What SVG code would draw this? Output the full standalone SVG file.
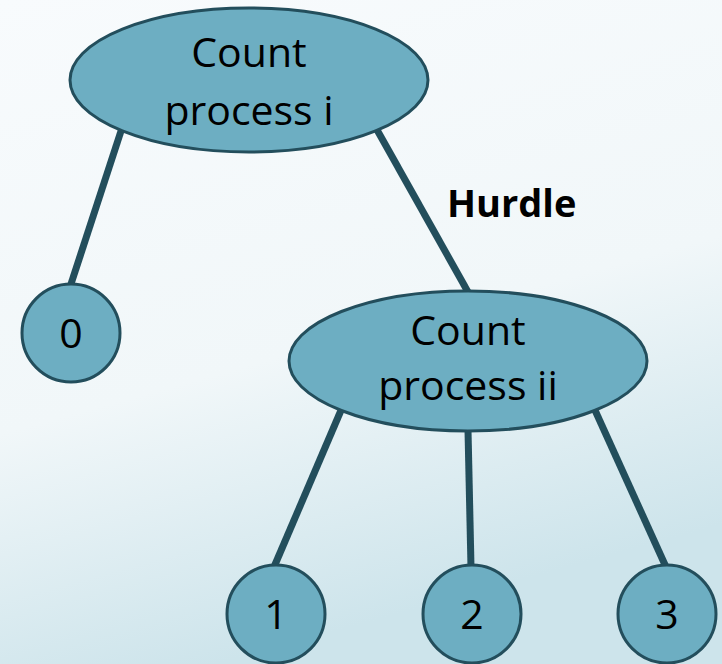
<svg xmlns="http://www.w3.org/2000/svg" width="722" height="664" viewBox="0 0 722 664">
  <defs>
    <linearGradient id="bg" x1="0" y1="0" x2="0.3" y2="1">
      <stop offset="0" stop-color="#f8fbfd"/>
      <stop offset="0.6" stop-color="#f1f7f9"/>
      <stop offset="1" stop-color="#cde4eb"/>
    </linearGradient>
    <style>
      .node { fill: #6daec2; stroke: #234e5c; stroke-width: 3; }
      .edge { stroke: #234e5c; stroke-width: 7; fill: none; }
      .lbl { font-family: "Open Sans", "Liberation Sans", sans-serif; font-size: 41px; fill: #000; text-anchor: middle; }
      .bold { font-weight: bold; font-size: 38px; text-anchor: start; }
    </style>
  </defs>
  <rect width="722" height="664" fill="url(#bg)"/>

  <g id="connectors">
    <line class="edge" x1="122" y1="128" x2="70" y2="287"/>
    <line class="edge" x1="376" y1="128" x2="468" y2="292"/>
    <line class="edge" x1="342" y1="408" x2="274" y2="567"/>
    <line class="edge" x1="468" y1="430" x2="471" y2="567"/>
    <line class="edge" x1="594" y1="408" x2="666" y2="567"/>
  </g>

  <text class="lbl bold" x="447" y="217">Hurdle</text>

  <g id="count-i">
    <ellipse class="node" cx="249" cy="80" rx="179" ry="72"/>
    <text class="lbl" x="249" y="67">Count</text>
    <text class="lbl" x="249" y="125">process i</text>
  </g>

  <g id="zero">
    <circle class="node" cx="71" cy="333" r="49"/>
    <text class="lbl" x="71" y="348">0</text>
  </g>

  <g id="count-ii">
    <ellipse class="node" cx="468" cy="361" rx="179" ry="70"/>
    <text class="lbl" x="468" y="345">Count</text>
    <text class="lbl" x="468" y="400">process ii</text>
  </g>

  <g id="one">
    <circle class="node" cx="276" cy="614" r="49"/>
    <text class="lbl" x="276" y="629">1</text>
  </g>
  <g id="two">
    <circle class="node" cx="472" cy="614" r="49"/>
    <text class="lbl" x="472" y="629">2</text>
  </g>
  <g id="three">
    <circle class="node" cx="667" cy="614" r="49"/>
    <text class="lbl" x="667" y="629">3</text>
  </g>
</svg>
